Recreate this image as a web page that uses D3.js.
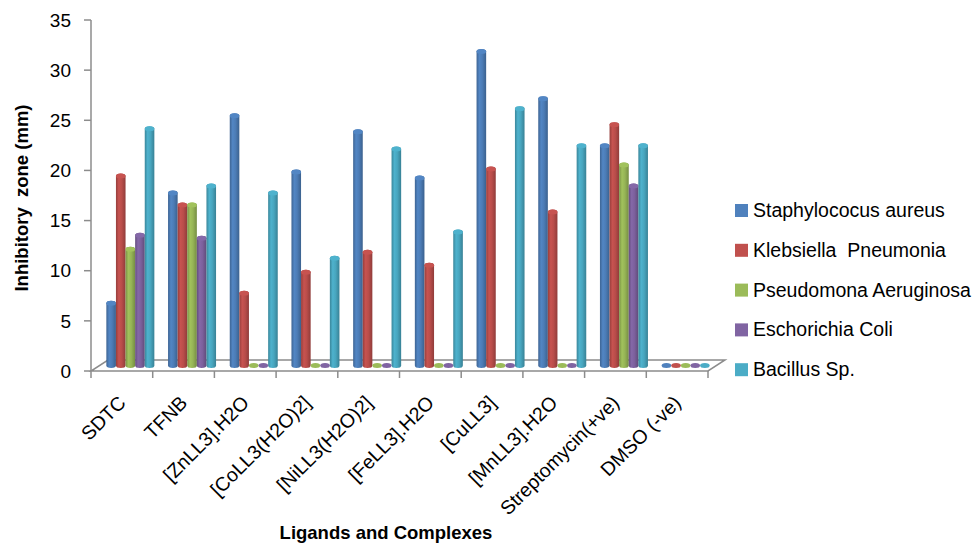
<!DOCTYPE html>
<html>
<head>
<meta charset="utf-8">
<script src="https://cdn.jsdelivr.net/npm/d3@7"></script>
<style>
    body { margin: 0; background: #fff; }
    svg text { font-family: "Liberation Sans", Arial, sans-serif; fill: #000; white-space: pre; }
</style>
</head>
<body>
<svg id="chart" width="979" height="553"></svg>
<script>
// chart data
const categories = ["SDTC", "TFNB", "[ZnLL3].H2O", "[CoLL3(H2O)2]", "[NiLL3(H2O)2]",
    "[FeLL3].H2O", "[CuLL3]", "[MnLL3].H2O", "Streptomycin(+ve)", "DMSO (-ve)"];
const seriesNames = ["Staphylococus aureus", "Klebsiella  Pneumonia", "Pseudomona Aeruginosa",
    "Eschorichia Coli", "Bacillus Sp."];
const staphylococus = [6.2, 17.2, 24.9, 19.3, 23.3, 18.7, 31.3, 26.6, 21.9, 0];
const klebsiella = [18.9, 16.0, 7.2, 9.3, 11.3, 10.0, 19.6, 15.3, 24.0, 0];
const pseudomona = [11.6, 16.0, 0, 0, 0, 0, 0, 0, 20.0, 0];
const eschorichia = [13.0, 12.7, 0, 0, 0, 0, 0, 0, 17.9, 0];
const bacillus = [23.6, 17.9, 17.2, 10.7, 21.6, 13.3, 25.6, 21.9, 21.9, 0];
const yTicks = [0, 5, 10, 15, 20, 25, 30, 35];

const seriesValues = [staphylococus, klebsiella, pseudomona, eschorichia, bacillus];
const colors = ["#4F81BD", "#C0504D", "#9BBB59", "#8064A2", "#4BACC6"];

const svg = d3.select("#chart");

// plot frame and floor depth
const plotLeft = 91, plotRight = 708, plotTop = 20, plotBottom = 371;
const depthX = 17, depthY = -11;
const axisColor = "#8c8c8c";

const x0 = d3.scaleBand().domain(categories).range([plotLeft, plotRight]).padding(0);
const groupWidth = 48;
const x1 = d3.scaleBand().domain(d3.range(seriesNames.length)).range([0, groupWidth]).padding(0);
const y = d3.scaleLinear().domain([0, 35]).range([plotBottom, plotTop]);

// gradients for the cylinder look
const defs = svg.append("defs");
colors.forEach((c, i) => {
    const g = defs.append("linearGradient")
        .attr("id", `cyl-${i}`)
        .attr("x1", "0%").attr("x2", "100%").attr("y1", "0%").attr("y2", "0%");
    g.append("stop").attr("offset", "0%").attr("stop-color", d3.color(c).darker(0.7));
    g.append("stop").attr("offset", "30%").attr("stop-color", d3.color(c).brighter(0.1));
    g.append("stop").attr("offset", "60%").attr("stop-color", d3.color(c).darker(0.1));
    g.append("stop").attr("offset", "100%").attr("stop-color", d3.color(c).darker(0.8));
});

// floor of the 3d chart
svg.append("path")
    .attr("d", `M${plotLeft},${plotBottom} L${plotRight},${plotBottom} L${plotRight + depthX},${plotBottom + depthY} L${plotLeft + depthX},${plotBottom + depthY} Z`)
    .attr("fill", "#fff")
    .attr("stroke", axisColor)
    .attr("stroke-width", 1.5);

// value axis
svg.append("line")
    .attr("x1", plotLeft).attr("x2", plotLeft)
    .attr("y1", y(35)).attr("y2", plotBottom)
    .attr("stroke", axisColor).attr("stroke-width", 1.5);

svg.selectAll(".ytick")
    .data(yTicks)
    .join("line")
    .attr("class", "ytick")
    .attr("x1", plotLeft - 7).attr("x2", plotLeft)
    .attr("y1", d => y(d)).attr("y2", d => y(d))
    .attr("stroke", axisColor).attr("stroke-width", 1.5);

svg.selectAll(".ylabel")
    .data(yTicks)
    .join("text")
    .attr("class", "ylabel")
    .attr("x", 71)
    .attr("y", d => y(d))
    .attr("dy", "0.35em")
    .attr("text-anchor", "end")
    .style("font-size", "19px")
    .text(d => d);

// category axis ticks at band edges
const edges = categories.map(c => x0(c)).concat([plotRight]);
svg.selectAll(".xtick")
    .data(edges)
    .join("line")
    .attr("class", "xtick")
    .attr("x1", d => d).attr("x2", d => d)
    .attr("y1", plotBottom).attr("y2", plotBottom + 7)
    .attr("stroke", axisColor).attr("stroke-width", 1.5);

svg.selectAll(".xlabel")
    .data(categories)
    .join("text")
    .attr("class", "xlabel")
    .attr("text-anchor", "end")
    .attr("transform", d => `translate(${x0(d) + x0.bandwidth() / 2 + 5},${plotBottom + 33}) rotate(-45)`)
    .style("font-size", "19.5px")
    .text(d => d);

// cylinders, drawn at mid depth
const midX = depthX / 2, midY = depthY / 2;
const rx = x1.bandwidth() / 2, ry = 2.5;

const bars = [];
categories.forEach((c, ci) => {
    seriesValues.forEach((vals, si) => {
        const cx = x0(c) + (x0.bandwidth() - groupWidth) / 2 + x1(si) + rx + midX;
        bars.push({ cx, v: vals[ci], si });
    });
});

const barG = svg.append("g");
bars.forEach(b => {
    const base = y(0) + midY;
    const topY = y(b.v) + midY;
    if (b.v > 0) {
        barG.append("path")
            .attr("d", `M${b.cx - rx},${topY} L${b.cx - rx},${base}
                A${rx},${ry} 0 0 0 ${b.cx + rx},${base} L${b.cx + rx},${topY}
                A${rx},${ry} 0 0 0 ${b.cx - rx},${topY} Z`)
            .attr("fill", `url(#cyl-${b.si})`);
    }
    // top cap (or a flat disc for zero values)
    barG.append("ellipse")
        .attr("cx", b.cx).attr("cy", topY)
        .attr("rx", rx).attr("ry", ry)
        .attr("fill", d3.color(colors[b.si]).brighter(b.v > 0 ? 0.1 : 0));
});

// legend
const legend = svg.append("g").attr("transform", "translate(735,204)");
seriesNames.forEach((name, i) => {
    const row = legend.append("g").attr("transform", `translate(0,${i * 39.8})`);
    row.append("rect")
        .attr("width", 13).attr("height", 13)
        .attr("fill", colors[i]);
    row.append("text")
        .attr("x", 18).attr("y", 13)
        .style("font-size", "19.5px")
        .text(name);
});

// axis titles
svg.append("text")
    .attr("transform", "translate(28,198) rotate(-90)")
    .attr("text-anchor", "middle")
    .style("font-size", "18.5px")
    .style("font-weight", "bold")
    .text("Inhibitory  zone (mm)");

svg.append("text")
    .attr("x", 386)
    .attr("y", 539)
    .attr("text-anchor", "middle")
    .style("font-size", "18.5px")
    .style("font-weight", "bold")
    .text("Ligands and Complexes");
</script>
</body>
</html>
